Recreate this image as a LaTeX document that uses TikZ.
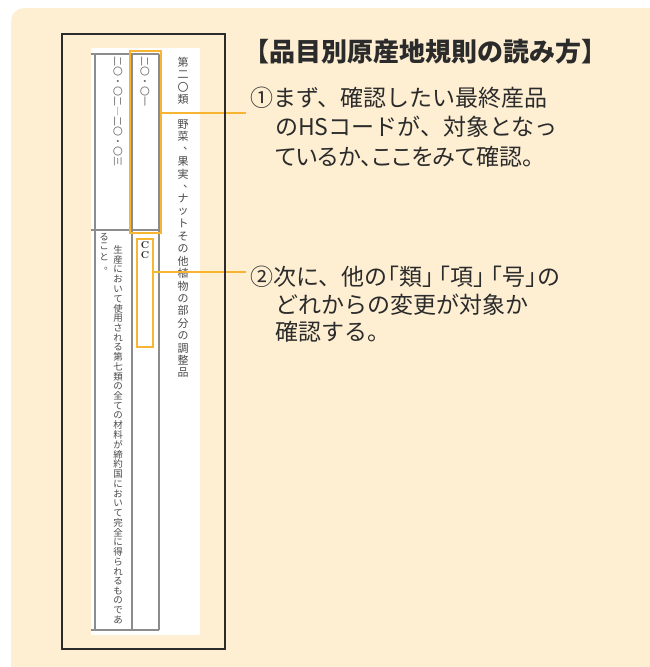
\documentclass[tikz,border=0pt]{standalone}
\usepackage{fontspec}
\usepackage{tikz}
\usetikzlibrary{positioning}
\newfontfamily\jpfont{Noto Sans CJK JP}
\definecolor{cream}{HTML}{FEEFD3}
\definecolor{marker}{HTML}{F7B531}
\definecolor{ink}{HTML}{2B2B2B}
\definecolor{rule}{HTML}{8C8C8C}
\newcommand{\vpunct}[2][.3em]{\makebox[1em][l]{\hspace{.5em}\raisebox{#1}[.88em][.12em]{#2}}}
\newcommand{\kakko}{\makebox[.5em][r]{「}}
\newcommand{\kokka}{\makebox[.5em][l]{」}}
\tikzset{
  vchar/.style={inner sep=0, text=ink!85, font=\jpfont\fontsize{#1}{#1}\selectfont},
  code/.style={rotate=-90, inner sep=0, text=ink!70, font=\jpfont\fontsize{10}{10}\selectfont},
  hl/.style={draw=marker, line width=2pt, inner sep=0},
  title/.style={inner sep=0, text=ink, font=\jpfont\bfseries\fontsize{26}{26}\selectfont},
  note/.style={inner sep=0, text=ink, font=\jpfont\fontsize{23}{23}\selectfont}
}

\begin{document}
\begin{tikzpicture}[x=1pt, y=-1pt]
\useasboundingbox (0,0) rectangle (649,667);
\fill[cream, rounded corners=13pt] (11,8) rectangle (690,700);
\fill[white] (91,48) rectangle (200,635);
\draw[rule, line width=1.4pt] (91,54) -- (159,54) (91,230) -- (159,230) (91,630) -- (159,630);
\foreach \x in {95,132,159} {
 \draw[rule, line width=1.4pt] (\x,54) -- (\x,630);
}
\node[code, anchor=west] (hs) at (145,56) {二〇・〇一};
\node[code, anchor=west] (range) at (118,56) {二〇・〇二―二〇・〇三};
\foreach \c [count=\i from 0] in {第,二,〇,類,{},野,菜,\vpunct{、},果,実,\vpunct{、},ナ,ッ,ト,そ,の,他,植,物,の,部,分,の,調,整,品} {
 \node[vchar=11] (h\i) at (183,{62+12.44*\i}) {\c};
}
\foreach \c [count=\i from 0] in {生,産,に,お,い,て,使,用,さ,れ,る,第,七,類,の,全,て,の,材,料,が,締,約,国,に,お,い,て,完,全,に,得,ら,れ,る,も,の,で,あ} {
 \node[vchar=9.5] (r\i) at (118,{250+9.74*\i}) {\c};
}
\foreach \c [count=\i from 0] in {る,こ,と,\vpunct[0em]{。}} {
 \node[vchar=9.5] (s\i) at (104,{237+9.74*\i}) {\c};
}
\node[inner sep=0, text=ink, align=center, font=\bfseries\fontsize{10}{9.5}\selectfont] (cc) at (145,250) {C\\C};

\node[hl, minimum width=31pt, minimum height=182pt] (box1) at (145.5,142) {};
\node[hl, minimum width=16pt, minimum height=108pt] (box2) at (145,293) {};
\coordinate (tip1) at (246,113);
\coordinate (tip2) at (246,272);
\draw[marker, line width=2pt] (tip1 -| box1.east) -- (tip1);
\draw[marker, line width=2pt] (tip2 -| box2.east) -- (tip2);
\draw[ink, line width=2pt] (62,34) rectangle (225,649);

\node[title, anchor=base west] (head) at (243,61) {【品目別原産地規則の読み方】};
\node[note, anchor=base west] (a1) at (250,106.5) {①まず、確認したい最終産品};
\node[note, anchor=base west] (a2) at (275,135.5) {のHSコードが、対象となっ};
\node[note, anchor=base west, font=\jpfont\fontsize{23}{23}\selectfont\addfontfeatures{RawFeature=+palt}] (a3) at (275,165.5) {ているか、ここをみて確認。};
\node[note, anchor=base west] (b1) at (250,285.5) {②次に、他の\kakko 類\kokka\hspace{.25em}\kakko 項\kokka\hspace{.25em}\kakko 号\kokka の};
\node[note, anchor=base west] (b2) at (275,313.5) {どれからの変更が対象か};
\node[note, anchor=base west] (b3) at (275,340.5) {確認する。};
\end{tikzpicture}
\end{document}
